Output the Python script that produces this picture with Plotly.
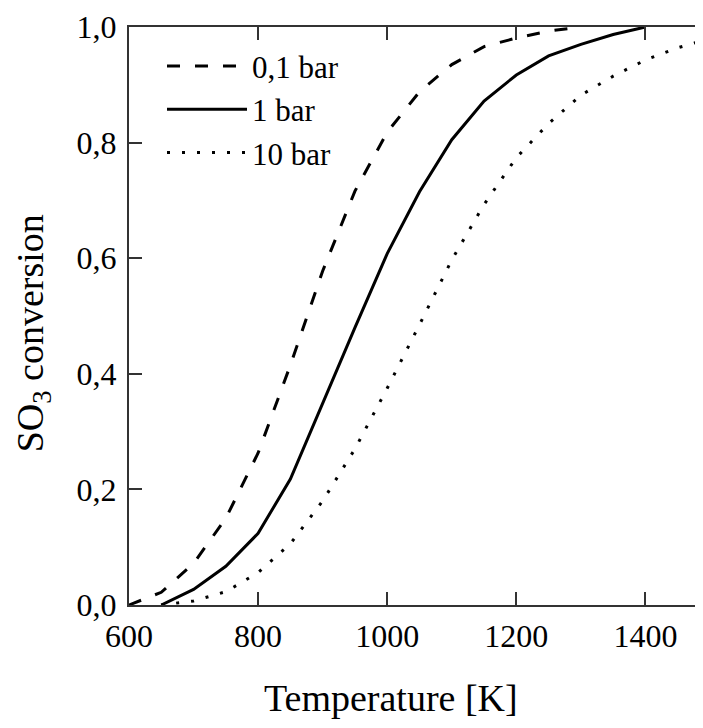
import plotly.graph_objects as go

# Temperature [K]
temp_01 = [600, 650, 700, 750, 800, 850, 900, 950, 1000, 1050, 1100, 1150, 1200, 1250, 1300]
conv_01 = [0.0, 0.022, 0.072, 0.15, 0.263, 0.415, 0.578, 0.716, 0.818, 0.888, 0.935, 0.966, 0.981, 0.993, 1.0]

temp_1 = [650, 700, 750, 800, 850, 900, 950, 1000, 1050, 1100, 1150, 1200, 1250, 1300, 1350, 1400]
conv_1 = [0.0, 0.027, 0.067, 0.124, 0.218, 0.35, 0.48, 0.608, 0.715, 0.805, 0.872, 0.917, 0.95, 0.97, 0.987, 1.0]

temp_10 = [650, 700, 750, 800, 850, 900, 950, 1000, 1050, 1100, 1150, 1200, 1250, 1300, 1350, 1400, 1450, 1500]
conv_10 = [0.0, 0.007, 0.023, 0.056, 0.106, 0.18, 0.27, 0.375, 0.485, 0.597, 0.693, 0.774, 0.833, 0.882, 0.915, 0.943, 0.964, 0.98]

series_names = ["0,1 bar", "1 bar", "10 bar"]

x_ticks = [600, 800, 1000, 1200, 1400]
y_ticks = [0.0, 0.2, 0.4, 0.6, 0.8, 1.0]
y_tick_labels = ["0,0", "0,2", "0,4", "0,6", "0,8", "1,0"]

FONT = "Liberation Serif, Times New Roman, serif"
INK = "#000000"
AXC = "#333333"

W, H = 703, 728
ML, MR, MT, MB = 121, 1, 14, 131
PW = W - ML - MR
PH = H - MT - MB

fig = go.Figure()
fig.add_trace(go.Scatter(x=temp_01, y=conv_01, mode="lines", name=series_names[0],
                         line=dict(color=INK, width=3, dash="13px,15px")))
fig.add_trace(go.Scatter(x=temp_1, y=conv_1, mode="lines", name=series_names[1],
                         line=dict(color=INK, width=3)))
fig.add_trace(go.Scatter(x=temp_10, y=conv_10, mode="lines", name=series_names[2],
                         line=dict(color=INK, width=3, dash="3px,12px")))


def px_to_paper(x, y):
    return (x - ML) / PW, (H - MB - y) / PH


tx, ty = px_to_paper(383, 691)
yx, yy = px_to_paper(25, 323)

fig.update_layout(
    width=W, height=H,
    margin=dict(l=ML, r=MR, t=MT, b=MB),
    paper_bgcolor="white", plot_bgcolor="white",
    font=dict(family=FONT, color=INK),
    showlegend=True,
    legend=dict(x=0.0568, y=0.9786, xanchor="left", yanchor="top",
                bgcolor="rgba(0,0,0,0)", font=dict(size=31, family=FONT, color=INK),
                itemwidth=80, tracegroupgap=0),
    xaxis=dict(range=[600, 1500], tickvals=x_ticks, ticktext=[str(v) for v in x_ticks],
               ticks="inside", ticklen=13, tickwidth=2, tickcolor=AXC,
               showline=True, linecolor=AXC, linewidth=2, mirror="ticks",
               showgrid=False, zeroline=False, ticklabelstandoff=2,
               ticklabeloverflow="allow",
               tickfont=dict(size=32, family=FONT, color=INK)),
    yaxis=dict(range=[0, 1.0], tickvals=y_ticks, ticktext=y_tick_labels,
               ticks="inside", ticklen=13, tickwidth=2, tickcolor=AXC,
               showline=True, linecolor=AXC, linewidth=2, mirror=False,
               showgrid=False, zeroline=False, ticklabelstandoff=4,
               ticklabeloverflow="allow",
               tickfont=dict(size=32, family=FONT, color=INK)),
    annotations=[
        dict(text="Temperature [K]", x=tx, y=ty, xref="paper", yref="paper",
             xanchor="center", yanchor="middle",
             showarrow=False, font=dict(size=38, family=FONT, color=INK)),
        dict(text="SO<sub>3</sub> conversion", x=yx, y=yy, xref="paper", yref="paper",
             xanchor="center", yanchor="middle",
             textangle=-90, showarrow=False, font=dict(size=38, family=FONT, color=INK)),
    ],
)

fig.write_html("out.html")
